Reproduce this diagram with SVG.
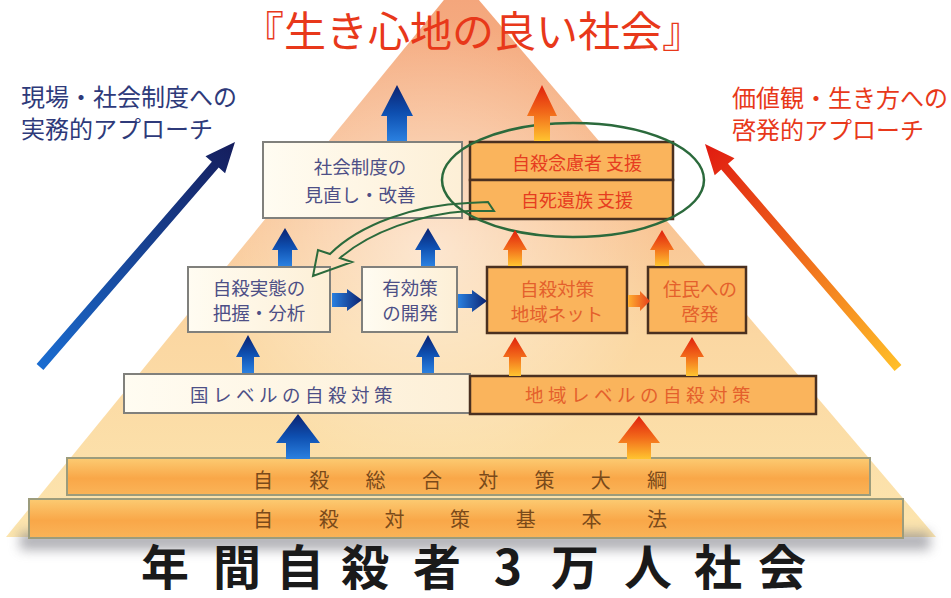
<svg xmlns="http://www.w3.org/2000/svg" width="951" height="598" viewBox="0 0 951 598">
<defs>
<linearGradient id="pyr" gradientUnits="userSpaceOnUse" x1="0" y1="0" x2="0" y2="540">
<stop offset="0" stop-color="#F4A67C"/><stop offset="0.35" stop-color="#F8BF90"/><stop offset="0.62" stop-color="#FBD7A2"/><stop offset="1" stop-color="#FCE5AE"/>
</linearGradient>
<radialGradient id="glow" cx="430" cy="250" r="230" gradientUnits="userSpaceOnUse">
<stop offset="0" stop-color="#FFFFFF" stop-opacity="0.55"/><stop offset="1" stop-color="#FFFFFF" stop-opacity="0"/>
</radialGradient>
<linearGradient id="bV" x1="0" y1="0" x2="0" y2="1">
<stop offset="0" stop-color="#0B2270"/><stop offset="0.5" stop-color="#0E4FB0"/><stop offset="1" stop-color="#2A80E0"/>
</linearGradient>
<linearGradient id="oV" x1="0" y1="0" x2="0" y2="1">
<stop offset="0" stop-color="#E0200C"/><stop offset="0.5" stop-color="#F26A1A"/><stop offset="1" stop-color="#FFC430"/>
</linearGradient>
<linearGradient id="bH" x1="0" y1="0" x2="1" y2="0">
<stop offset="0" stop-color="#2A80E0"/><stop offset="1" stop-color="#0B2270"/>
</linearGradient>
<linearGradient id="oH" x1="0" y1="0" x2="1" y2="0">
<stop offset="0" stop-color="#FFB030"/><stop offset="1" stop-color="#E8401A"/>
</linearGradient>
<linearGradient id="lArr" gradientUnits="userSpaceOnUse" x1="40" y1="367" x2="235" y2="142">
<stop offset="0" stop-color="#1A6CD0"/><stop offset="1" stop-color="#151D5C"/>
</linearGradient>
<linearGradient id="rArr" gradientUnits="userSpaceOnUse" x1="898" y1="368" x2="705" y2="144">
<stop offset="0" stop-color="#FFBE28"/><stop offset="1" stop-color="#E01A10"/>
</linearGradient>
<linearGradient id="bar" x1="0" y1="0" x2="0" y2="1">
<stop offset="0" stop-color="#FCCB72"/><stop offset="0.55" stop-color="#F9A748"/><stop offset="1" stop-color="#FAB458"/>
</linearGradient>
<linearGradient id="cream" x1="0" y1="0" x2="1" y2="0">
<stop offset="0" stop-color="#FFFCF2"/><stop offset="1" stop-color="#FDEFD6"/>
</linearGradient>
<filter id="blur" x="-10%" y="-100%" width="120%" height="300%"><feGaussianBlur stdDeviation="6"/></filter>
<style>
.t{font-family:"Noto Sans CJK JP","Noto Sans CJK SC",sans-serif;}
.navy{fill:#4D4F86;font-size:18.5px;}
.red{fill:#E63C20;font-size:18px;}
.ored{fill:#E4602C;font-size:18.5px;}
.cbox{fill:url(#cream);stroke:#80807C;stroke-width:2;}
.obox{fill:#FAB45C;stroke:#4A3020;stroke-width:2.5;}
.bar{fill:url(#bar);stroke:#9C9C7C;stroke-width:2;}
.bt{fill:#7A4A1A;font-size:20px;}
.bv{fill:url(#bV);}
.ov{fill:url(#oV);}
</style>
</defs>

<!-- background pyramid -->
<polygon points="461,-21 936,537 6,537" fill="url(#pyr)"/>
<polygon points="461,-21 936,537 6,537" fill="url(#glow)"/>
<rect x="20" y="532" width="910" height="18" fill="#7E7E86" opacity="0.6" filter="url(#blur)"/>

<!-- title -->
<text id="title" class="t" x="242" y="47" font-size="42" fill="#E8381A">『生き心地の良い社会』</text>

<g id="left-label">
<text class="t" x="21" y="106" font-size="24" fill="#2E3A7A">現場・社会制度への</text>
<text class="t" x="21" y="138" font-size="24" fill="#2E3A7A">実務的アプローチ</text>
</g>
<g id="right-label">
<text class="t" x="732" y="107" font-size="24" fill="#E8381A">価値観・生き方への</text>
<text class="t" x="732" y="139" font-size="24" fill="#E8381A">啓発的アプローチ</text>
</g>

<g id="n-seido">
<rect class="cbox" x="263" y="142" width="199" height="76"/>
<text class="t navy" x="360" y="174" text-anchor="middle">社会制度の</text>
<text class="t navy" x="360" y="202" text-anchor="middle">見直し・改善</text>
</g>
<g id="n-nenryo">
<rect class="obox" x="470" y="142" width="203" height="38"/>
<text class="t red" x="577" y="170" text-anchor="middle">自殺念慮者 支援</text>
</g>
<g id="n-izoku">
<rect class="obox" x="470" y="180" width="203" height="39"/>
<text class="t red" x="577" y="207" text-anchor="middle">自死遺族 支援</text>
</g>
<g id="n-jittai">
<rect class="cbox" x="188" y="267" width="142" height="65"/>
<text class="t navy" x="259" y="295" text-anchor="middle">自殺実態の</text>
<text class="t navy" x="259" y="320" text-anchor="middle">把握・分析</text>
</g>
<g id="n-yuko">
<rect class="cbox" x="362" y="267" width="95" height="65"/>
<text class="t navy" x="410" y="295" text-anchor="middle">有効策</text>
<text class="t navy" x="410" y="320" text-anchor="middle">の開発</text>
</g>
<g id="n-net">
<rect class="obox" x="487" y="267" width="140" height="66"/>
<text class="t ored" x="557" y="296" text-anchor="middle">自殺対策</text>
<text class="t ored" x="557" y="321" text-anchor="middle">地域ネット</text>
</g>
<g id="n-jumin">
<rect class="obox" x="648" y="267" width="98" height="66"/>
<text class="t ored" x="700" y="296" text-anchor="middle">住民への</text>
<text class="t ored" x="700" y="321" text-anchor="middle">啓発</text>
</g>
<g id="n-kuni">
<rect class="cbox" x="124" y="374" width="346" height="39"/>
<text class="t navy" x="190" y="402" letter-spacing="4.5">国レベルの自殺対策</text>
</g>
<g id="n-chiiki">
<rect class="obox" x="470" y="376" width="346" height="38"/>
<text class="t ored" x="525" y="402" letter-spacing="4.5">地域レベルの自殺対策</text>
</g>
<g id="n-taiko">
<rect class="bar" x="67" y="458" width="803" height="37"/>
<text class="t bt" y="488" text-anchor="middle" x="263 319.3 375.6 431.9 488.2 544.5 600.8 657">自殺総合対策大綱</text>
</g>
<g id="n-kihonho">
<rect class="bar" x="29" y="499" width="874" height="39"/>
<text class="t bt" y="527" text-anchor="middle" x="263 328.7 394.4 460.1 525.8 591.5 657">自殺対策基本法</text>
</g>

<text id="base-title" class="t" y="585" font-size="48" font-weight="bold" fill="#1A1A1A" text-anchor="middle" x="165 237 300 365 437 508 575 648 718 782">年間自殺者3万人社会</text>

<g id="highlight">
<ellipse cx="573" cy="180" rx="131" ry="57" fill="none" stroke="#2B6A3C" stroke-width="2.5"/>
</g>

<g id="connectors">
<!-- big side arrows -->
<polygon fill="url(#lArr)" points="36.6,364.1 211.9,161.8 205.5,156.2 235,142 225.1,173.2 218.7,167.6 43.4,369.9"/>
<polygon fill="url(#rArr)" points="894.6,370.9 721.2,169.6 714.7,175.2 705,144 734.5,158.2 728,163.8 901.4,365.1"/>
<!-- top arrows -->
<path class="bv" d="M397,85 L413,116 L407,116 L407,141 L387,141 L387,116 L381,116 Z"/>
<path class="ov" d="M542,85 L557,116 L550,116 L550,141 L534,141 L534,116 L527,116 Z"/>
<!-- middle up arrows -->
<path class="bv" d="M285,228 L298,250 L292,250 L292,266 L278,266 L278,250 L272,250 Z"/>
<path class="bv" d="M428,228 L441,250 L435,250 L435,266 L421,266 L421,250 L415,250 Z"/>
<path class="ov" d="M515,230 L527,250 L522,250 L522,266 L508,266 L508,250 L503,250 Z"/>
<path class="ov" d="M662,230 L674,250 L669,250 L669,266 L655,266 L655,250 L650,250 Z"/>
<!-- lower up arrows -->
<path class="bv" d="M248,335 L260,357 L254,357 L254,373 L242,373 L242,357 L236,357 Z"/>
<path class="bv" d="M428,335 L440,357 L434,357 L434,373 L422,373 L422,357 L416,357 Z"/>
<path class="ov" d="M515,337 L527,357 L521,357 L521,376 L509,376 L509,357 L503,357 Z"/>
<path class="ov" d="M692,337 L704,357 L698,357 L698,376 L686,376 L686,357 L680,357 Z"/>
<!-- big base arrows -->
<path class="bv" d="M298,414 L320,443 L310,443 L310,459 L286,459 L286,443 L276,443 Z"/>
<path class="ov" d="M639,416 L660,443 L651,443 L651,459 L627,459 L627,443 L618,443 Z"/>
<!-- horizontal arrows -->
<path fill="url(#bH)" d="M362,300 L347,289 L347,293 L332,293 L332,307 L347,307 L347,311 Z"/>
<path fill="url(#bH)" d="M487,301 L472,290 L472,294 L458,294 L458,308 L472,308 L472,312 Z"/>
<path fill="url(#oH)" d="M650,301 L640,291 L640,295 L628,295 L628,307 L640,307 L640,311 Z"/>
<!-- curved hollow green arrow -->
<path fill="none" stroke="#2B6A3C" stroke-width="2" stroke-linejoin="miter" d="M488,202 L494,211 L468,211 C420,214 370,232 340,258 L352,262 L313,276 L318,250 L330,254 C360,224 415,205 468,203 Z"/>
</g>
</svg>
